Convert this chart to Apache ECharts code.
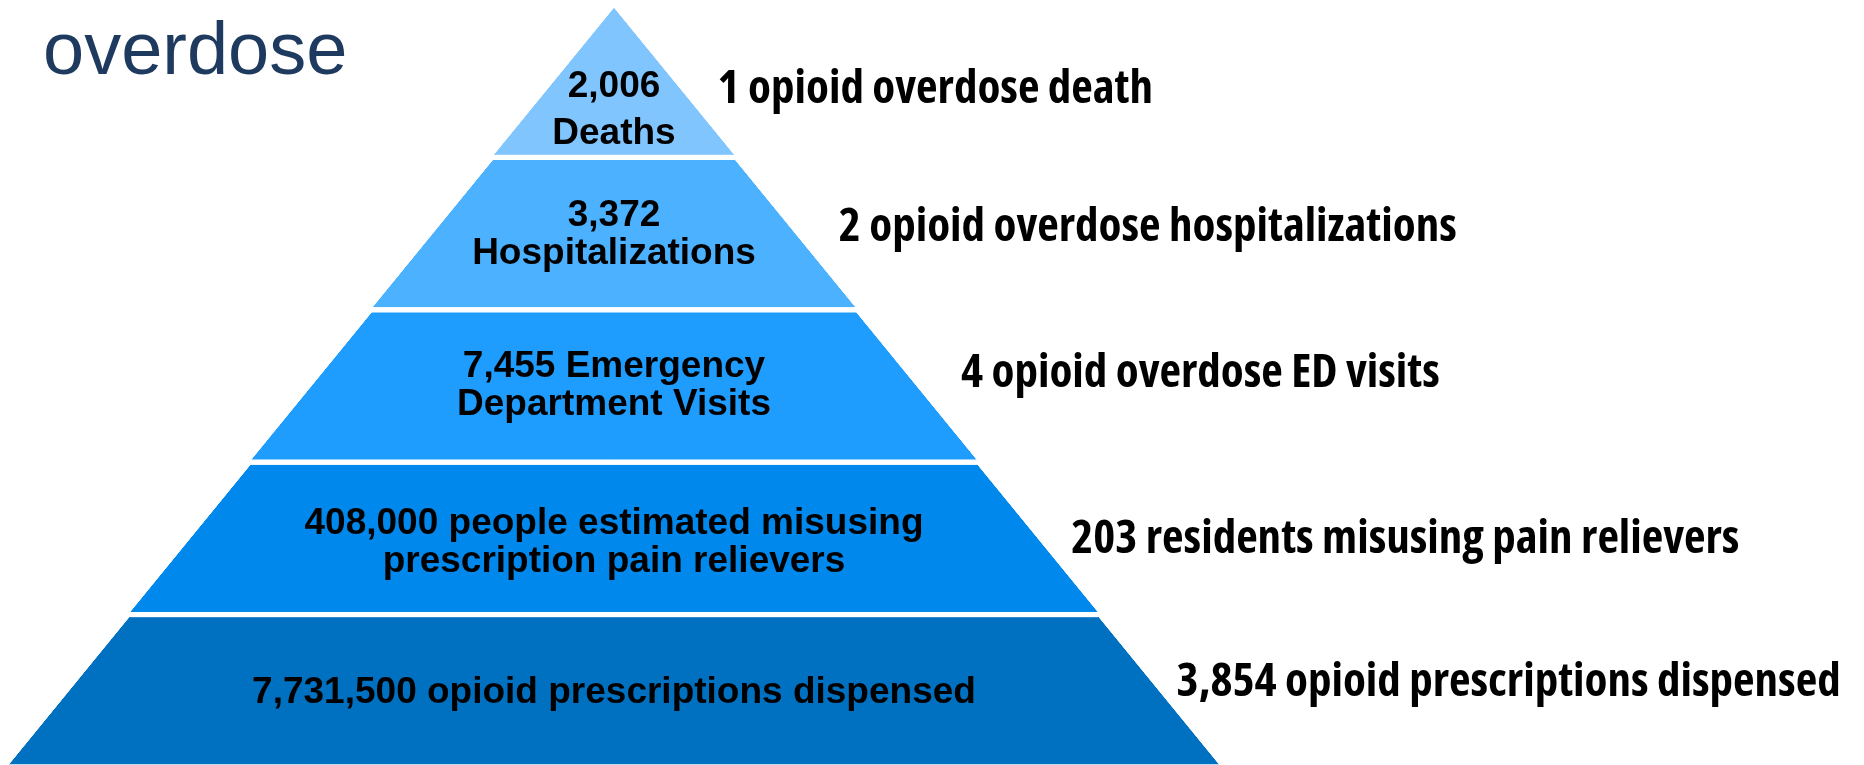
<!DOCTYPE html>
<html>
<head>
<meta charset="utf-8">
<title>overdose pyramid</title>
<script src="https://cdn.jsdelivr.net/npm/echarts@6/dist/echarts.min.js"></script>
<style>
  html, body { margin: 0; padding: 0; background: #fff; }
  #chart { width: 1864px; height: 765px; }
</style>
</head>
<body>
<div id="chart"></div>
<script>
// tiers, top to bottom
const tierNames = ["Deaths", "Hospitalizations", "Emergency Department Visits", "Misusing pain relievers", "Prescriptions dispensed"];
const counts = [2006, 3372, 7455, 408000, 7731500];
const countText = ["\nDeaths", "\nHospitalizations", " Emergency\nDepartment Visits", " people estimated misusing\nprescription pain relievers", " opioid prescriptions dispensed"];
// per 1 death
const ratio = [1, 2, 4, 203, 3854];
const ratioText = ["opioid overdose death", "opioid overdose hospitalizations", "opioid overdose ED visits", "residents misusing pain relievers", "opioid prescriptions dispensed"];
// step of the pyramid (width of the tier's base)
const tierStep = [1, 2, 3, 4, 5];

const colors = ["#80c5fd", "#4cb1fe", "#1f9dfe", "#0088ed", "#0070c0"];
// label nudges [dx, dy]
const innerShift = [[0, 29], [0, 1], [0, 0], [0, 4], [0, 2]];
const sideShift = [[38, 8], [38, -6], [39, -12], [28, 1], [12, -8]];

const fmt = (n) => n.toLocaleString("en-US");

const geo = {
  type: "funnel",
  sort: "ascending",
  min: 0,
  max: 5,
  minSize: "0%",
  maxSize: "100%",
  left: 8,
  top: 7,
  width: 1212,
  height: 758,
  gap: 4,
  silent: true,
  animation: false,
};

const chart = echarts.init(document.getElementById("chart"));

chart.setOption({
  backgroundColor: "#fff",
  title: {
    text: "overdose",
    left: 43,
    top: 17,
    padding: 0,
    textStyle: {
      fontFamily: "'Liberation Sans', Arial, sans-serif",
      fontWeight: "normal",
      fontSize: 74,
      color: "#1f3a5f",
    },
  },
  series: [
    Object.assign({}, geo, {
      name: "counts",
      label: {
        show: true,
        position: "inside",
        color: "#000",
        fontFamily: "'Liberation Sans', Arial, sans-serif",
        fontWeight: "bold",
        fontSize: 37,
        lineHeight: 38,
      },
      labelLine: { show: false },
      labelLayout: (p) => ({ dx: innerShift[p.dataIndex][0], dy: innerShift[p.dataIndex][1] }),
      data: tierStep.map((v, i) => ({
        name: tierNames[i],
        value: v,
        itemStyle: { color: colors[i] },
        label: {
          formatter: fmt(counts[i]) + countText[i],
          lineHeight: i === 0 ? 47 : 38,
        },
      })),
    }),
    Object.assign({}, geo, {
      name: "per death",
      itemStyle: { color: "rgba(0,0,0,0)" },
      label: {
        show: true,
        position: "right",
        color: "#000",
        // condensed width of the variable Open Sans
        fontStyle: "condensed",
        fontFamily: "'Open Sans', 'DejaVu Sans Condensed', sans-serif",
        fontWeight: "bold",
        fontSize: 47,
      },
      labelLine: { show: false, length: 0 },
      labelLayout: (p) => ({ dx: sideShift[p.dataIndex][0], dy: sideShift[p.dataIndex][1] }),
      data: tierStep.map((v, i) => ({
        name: tierNames[i],
        value: v,
        label: { formatter: fmt(ratio[i]) + " " + ratioText[i] },
      })),
    }),
  ],
});
</script>
</body>
</html>
